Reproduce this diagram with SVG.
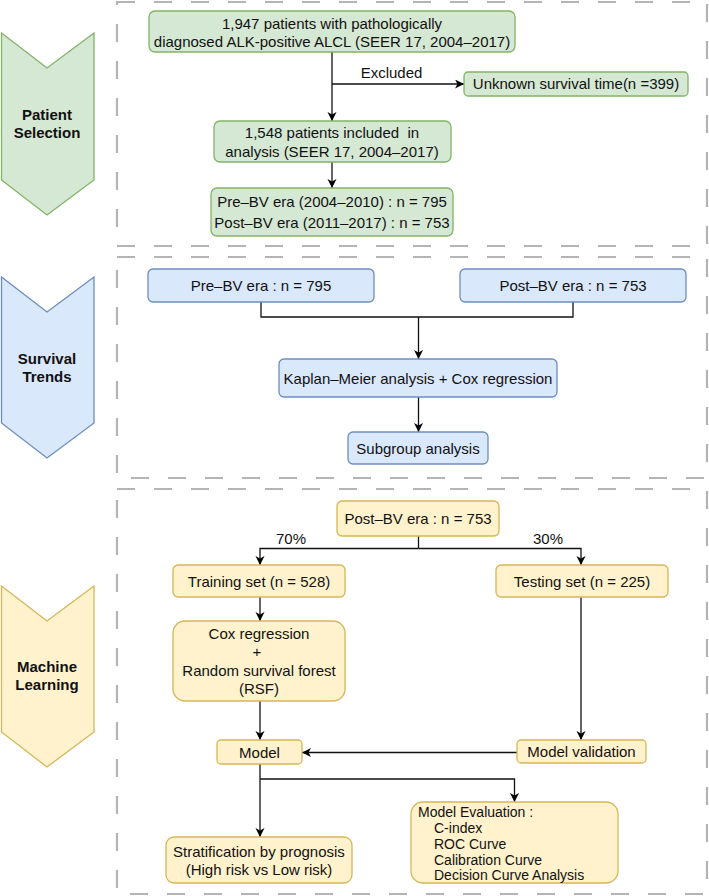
<svg xmlns="http://www.w3.org/2000/svg" width="709" height="896" viewBox="0 0 709 896">
<defs>
<marker id="ah" markerUnits="userSpaceOnUse" markerWidth="12" markerHeight="12" refX="9" refY="4.5" orient="auto">
<path d="M0,0 L9,4.5 L0,9 L2.5,4.5 Z" fill="#000"/>
</marker>
</defs>
<style>
text{font-family:"Liberation Sans",Arial,sans-serif;font-size:15px;fill:#111;}
.c{text-anchor:middle;}
.b{font-weight:bold;}
.s{font-size:14px;}
.pre{white-space:pre;}
.sec{fill:none;stroke:#b4b4b4;stroke-width:2.2;stroke-dasharray:18 19;}
.g{fill:#d5e8d4;stroke:#82b366;stroke-width:1.3;}
.bl{fill:#dae8fc;stroke:#6c8ebf;stroke-width:1.3;}
.y{fill:#fff2cc;stroke:#d6b656;stroke-width:1.3;}
.e{fill:none;stroke:#111;stroke-width:1.3;}
.a{marker-end:url(#ah);}
</style>
<rect id="background" x="0" y="0" width="709" height="896" fill="#fff"/>
<g id="sections">
<rect class="sec" x="117" y="2" width="590" height="244"/>
<rect class="sec" x="117" y="257" width="590" height="221"/>
<rect class="sec" x="117" y="489" width="590" height="405"/>
</g>
<g id="chev-patient">
<polygon class="g" points="1.5,33 47,68 94,33 94,180 47,215 1.5,180"/>
<text class="c b" x="47" y="120">Patient</text>
<text class="c b" x="47" y="138">Selection</text>
</g>
<g id="chev-survival">
<polygon class="bl" points="1.5,277 47,312 94,277 94,423 47,458 1.5,423"/>
<text class="c b" x="47" y="364">Survival</text>
<text class="c b" x="47" y="382">Trends</text>
</g>
<g id="chev-ml">
<polygon class="y" points="1.5,586 47,621 94,586 94,732 47,767 1.5,732"/>
<text class="c b" x="47" y="672">Machine</text>
<text class="c b" x="47" y="690">Learning</text>
</g>
<g id="connectors">
<path class="e a" d="M332,52 V121"/>
<path class="e a" d="M332,84 H464"/>
<path class="e a" d="M332,162 V188"/>
<path class="e" d="M261,302 V317 H573 V302"/>
<path class="e a" d="M418.5,317 V359"/>
<path class="e a" d="M418.5,397 V432"/>
<path class="e" d="M418.5,536 V548.5"/>
<path class="e a" d="M418.5,548.5 H260 V565"/>
<path class="e a" d="M418.5,548.5 H581 V565"/>
<path class="e a" d="M260,597 V621"/>
<path class="e a" d="M260,701 V740"/>
<path class="e a" d="M581,597 V740"/>
<path class="e a" d="M517,752.5 H302"/>
<path class="e a" d="M260,764 V837"/>
<path class="e a" d="M260,779 H514.5 V802"/>
<text class="c" x="391.5" y="78">Excluded</text>
<text class="c" x="291" y="543.5">70%</text>
<text class="c" x="548" y="543.5">30%</text>
</g>
<g id="n-all">
<rect class="g" x="149" y="11" width="366" height="41" rx="6"/>
<text class="c" x="332" y="28.5">1,947 patients with pathologically</text>
<text class="c" x="332" y="46.5">diagnosed ALK-positive ALCL (SEER 17, 2004–2017)</text>
</g>
<g id="n-excluded">
<rect class="g" x="464" y="72" width="224" height="24" rx="4"/>
<text class="c" x="576" y="89">Unknown survival time(n =399)</text>
</g>
<g id="n-included">
<rect class="g" x="214" y="121" width="237" height="41" rx="6"/>
<text class="c pre" x="332" y="138">1,548 patients included  in</text>
<text class="c" x="332" y="156.5">analysis (SEER 17, 2004–2017)</text>
</g>
<g id="n-eras">
<rect class="g" x="211" y="188" width="242" height="48" rx="6"/>
<text class="c" x="332" y="207">Pre–BV era (2004–2010) : n = 795</text>
<text class="c" x="332" y="228">Post–BV era (2011–2017) : n = 753</text>
</g>
<g id="n-pre">
<rect class="bl" x="148" y="269" width="226" height="33" rx="5"/>
<text class="c" x="261" y="291">Pre–BV era : n = 795</text>
</g>
<g id="n-post">
<rect class="bl" x="460" y="269" width="226" height="33" rx="5"/>
<text class="c" x="573" y="291">Post–BV era : n = 753</text>
</g>
<g id="n-km">
<rect class="bl" x="279" y="359" width="278" height="38" rx="5"/>
<text class="c" x="418" y="383.5">Kaplan–Meier analysis + Cox regression</text>
</g>
<g id="n-subgroup">
<rect class="bl" x="348" y="432" width="140" height="32" rx="5"/>
<text class="c" x="418" y="453.5">Subgroup analysis</text>
</g>
<g id="n-post-ml">
<rect class="y" x="337" y="501" width="162" height="35" rx="5"/>
<text class="c" x="418" y="524">Post–BV era : n = 753</text>
</g>
<g id="n-train">
<rect class="y" x="173" y="565" width="172" height="32" rx="5"/>
<text class="c" x="259" y="587">Training set (n = 528)</text>
</g>
<g id="n-test">
<rect class="y" x="496" y="565" width="172" height="32" rx="5"/>
<text class="c" x="582" y="587">Testing set (n = 225)</text>
</g>
<g id="n-cox">
<rect class="y" x="173" y="621" width="172" height="80" rx="12"/>
<text class="c" x="259" y="638.5">Cox regression</text>
<text class="c" x="257" y="657">+</text>
<text class="c" x="259" y="675.5">Random survival forest</text>
<text class="c" x="259" y="694">(RSF)</text>
</g>
<g id="n-model">
<rect class="y" x="217" y="740" width="85" height="24" rx="4"/>
<text class="c" x="259.5" y="757.5">Model</text>
</g>
<g id="n-validation">
<rect class="y" x="517" y="740" width="129" height="23" rx="4"/>
<text class="c" x="581.5" y="757">Model validation</text>
</g>
<g id="n-strat">
<rect class="y" x="166" y="837" width="186" height="46" rx="8"/>
<text class="c" x="259" y="857">Stratification by prognosis</text>
<text class="c" x="259" y="875">(High risk vs Low risk)</text>
</g>
<g id="n-eval">
<rect class="y" x="411" y="802" width="207" height="81" rx="12"/>
<text class="s" x="418" y="816.5">Model Evaluation :</text>
<text class="s" x="434" y="832.5">C-index</text>
<text class="s" x="434" y="848.5">ROC Curve</text>
<text class="s" x="434" y="864.5">Calibration Curve</text>
<text class="s" x="434" y="880">Decision Curve Analysis</text>
</g>
</svg>
